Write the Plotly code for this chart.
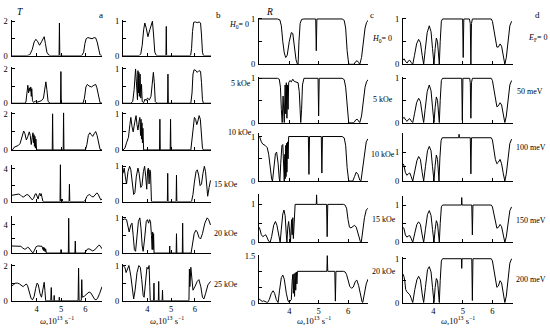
import plotly.graph_objects as go

W, H = 550, 333

# ---------------- data (omega in 1e13 s^-1, value) ----------------
omega_ticks = [4, 5, 6]
omega_ticktext = ["4", "5", "6"]

# column a : T
T_a_0 = [(2.97,0),(3.6,0),(3.72,0.05),(3.82,0.35),(3.9,0.8),(3.97,0.95),(4.05,0.8),(4.12,0.6),(4.2,0.8),(4.27,1.05),(4.31,1.1),(4.36,0.7),(4.42,0.2),(4.5,0.02),(4.6,0),(4.92,0),(4.935,1.9),(4.95,0),(5.85,0),(5.93,0.2),(5.98,0.7),(6.03,0.98),(6.1,1.05),(6.18,1.0),(6.27,0.98),(6.36,1.05),(6.42,1.03),(6.48,0.8),(6.54,0.3),(6.6,0.03),(6.68,0)]
T_a_5 = [(2.97,0),(3.5,0),(3.56,0.05),(3.6,0.5),(3.64,1.05),(3.67,0.6),(3.7,0.9),(3.73,0.7),(3.76,0.95),(3.78,0.4),(3.8,0.85),(3.83,0.15),(3.87,0.05),(3.95,0.12),(4.0,0.05),(4.1,0.1),(4.2,0.15),(4.28,0.3),(4.34,0.9),(4.38,1.25),(4.42,0.8),(4.47,0.1),(4.55,0),(4.98,0),(4.995,1.85),(5.01,0),(5.9,0),(5.96,0.3),(6.02,0.95),(6.08,1.1),(6.15,1.0),(6.25,0.95),(6.35,1.05),(6.42,1.1),(6.47,0.9),(6.54,0.3),(6.6,0.03),(6.68,0)]
T_a_10 = [(2.97,0),(3.02,0.02),(3.08,0.15),(3.15,0.2),(3.25,0.25),(3.32,0.35),(3.4,0.75),(3.47,1.05),(3.52,0.9),(3.58,0.55),(3.64,0.75),(3.7,1.0),(3.74,0.8),(3.78,0.3),(3.82,0.7),(3.85,0.95),(3.87,0.4),(3.89,0.85),(3.91,0.2),(3.93,0.75),(3.95,0.1),(3.97,0.6),(4.0,0),(4.1,0),(4.64,0),(4.655,2.0),(4.67,0),(5.09,0),(5.105,2.05),(5.12,0),(6.0,0),(6.06,0.3),(6.12,0.8),(6.18,0.95),(6.24,0.85),(6.3,0.75),(6.36,0.9),(6.42,1.02),(6.48,0.8),(6.54,0.3),(6.6,0.03),(6.68,0)]
T_a_15 = [(2.97,0.75),(3.05,0.8),(3.15,0.85),(3.25,0.9),(3.32,0.85),(3.4,0.6),(3.46,0.55),(3.52,0.7),(3.6,0.85),(3.66,0.8),(3.74,0.45),(3.82,0.2),(3.88,0.4),(3.94,0.9),(3.98,0.95),(4.03,0.4),(4.06,0.3),(4.1,0.8),(4.13,1.0),(4.16,0.7),(4.19,0.95),(4.22,0.5),(4.26,0),(4.35,0),(4.96,0),(4.975,4.5),(4.99,0),(5.04,0),(5.05,0.3),(5.06,0),(5.33,0),(5.345,2.1),(5.36,0),(5.95,0),(6.0,0.2),(6.06,0.6),(6.12,0.8),(6.18,0.85),(6.26,0.6),(6.32,0.55),(6.4,0.8),(6.47,1.05),(6.52,0.9),(6.58,0.4),(6.63,0.2),(6.68,0.3)]
T_a_20 = [(2.97,1.0),(3.1,1.0),(3.25,1.0),(3.35,0.95),(3.42,0.75),(3.5,0.55),(3.56,0.6),(3.62,0.8),(3.68,0.75),(3.75,0.4),(3.82,0.1),(3.86,0.05),(3.92,0.4),(3.98,0.9),(4.05,1.0),(4.15,1.0),(4.22,0.95),(4.26,0.5),(4.28,0.8),(4.3,0.3),(4.32,0.75),(4.35,0.2),(4.37,0.6),(4.4,0),(4.5,0),(4.99,0),(5.0,0.5),(5.01,0),(5.3,0),(5.315,4.9),(5.33,0),(5.57,0),(5.585,1.7),(5.6,0),(5.97,0),(6.02,0.3),(6.08,0.55),(6.15,0.6),(6.22,0.45),(6.3,0.3),(6.38,0.45),(6.46,0.8),(6.55,1.1),(6.6,1.05),(6.64,0.8),(6.68,0.6)]
T_a_25 = [(2.97,0.85),(3.05,0.9),(3.12,1.0),(3.22,1.0),(3.3,0.95),(3.38,0.85),(3.45,0.8),(3.52,0.9),(3.58,0.95),(3.63,0.85),(3.7,0.5),(3.77,0.15),(3.83,0.05),(3.9,0.25),(3.96,0.7),(4.02,1.0),(4.07,0.9),(4.14,0.4),(4.2,0.2),(4.26,0.6),(4.31,1.05),(4.34,0.6),(4.37,0),(4.58,0),(4.6,0.75),(4.62,0),(4.71,0),(4.72,0.3),(4.73,0),(4.92,0),(4.93,0.2),(4.94,0),(5.7,0),(5.72,1.85),(5.74,0),(5.83,0),(5.85,1.2),(5.87,0.2),(5.95,0.25),(6.05,0.4),(6.15,0.5),(6.22,0.45),(6.3,0.25),(6.38,0.08),(6.44,0.05),(6.5,0.15),(6.58,0.4),(6.64,0.65),(6.68,0.8)]

# column b : T
T_b_0 = [(2.97,0),(3.65,0),(3.72,0.05),(3.78,0.3),(3.84,0.75),(3.89,0.95),(3.95,0.8),(4.02,0.55),(4.1,0.75),(4.17,0.95),(4.21,1.0),(4.26,0.6),(4.31,0.1),(4.38,0),(4.78,0),(4.795,0.85),(4.81,0),(5.82,0),(5.86,0.2),(5.9,0.7),(5.95,0.97),(6.02,0.98),(6.1,0.96),(6.18,0.98),(6.24,0.95),(6.28,0.6),(6.32,0.1),(6.36,0),(6.68,0)]
T_b_5 = [(2.97,0),(3.3,0),(3.38,0.05),(3.44,0.4),(3.5,1.0),(3.54,0.5),(3.58,0.1),(3.6,0.95),(3.62,0.3),(3.64,0.9),(3.66,0.2),(3.69,0.85),(3.72,0.15),(3.75,0.55),(3.78,0.05),(3.84,0.02),(3.9,0.12),(3.95,0.08),(4.0,0.15),(4.08,0.1),(4.15,0.2),(4.2,0.55),(4.25,0.9),(4.29,0.6),(4.33,0.05),(4.4,0),(4.85,0),(4.865,0.85),(4.88,0),(5.83,0),(5.88,0.3),(5.92,0.85),(5.97,0.98),(6.05,0.95),(6.1,0.9),(6.17,0.95),(6.24,0.93),(6.28,0.6),(6.32,0.1),(6.36,0),(6.68,0)]
T_b_10 = [(2.97,0),(3.05,0.05),(3.12,0.2),(3.2,0.35),(3.26,0.7),(3.3,0.9),(3.35,0.65),(3.4,0.5),(3.46,0.75),(3.52,0.95),(3.56,0.7),(3.6,0.55),(3.65,0.8),(3.68,0.9),(3.71,0.4),(3.73,0.85),(3.75,0.3),(3.77,0.75),(3.79,0.2),(3.81,0.6),(3.84,0),(3.9,0),(4.51,0),(4.525,0.85),(4.54,0),(4.96,0),(4.975,0.85),(4.99,0),(5.83,0),(5.88,0.3),(5.93,0.75),(5.98,0.9),(6.03,0.85),(6.08,0.7),(6.13,0.8),(6.18,0.95),(6.23,0.85),(6.28,0.45),(6.32,0.05),(6.36,0),(6.68,0)]
T_b_15 = [(2.97,0.8),(3.02,0.95),(3.07,0.7),(3.12,0.5),(3.18,0.85),(3.25,1.0),(3.3,0.9),(3.36,0.5),(3.42,0.2),(3.47,0.25),(3.53,0.7),(3.6,0.95),(3.65,0.8),(3.72,0.4),(3.77,0.45),(3.83,0.85),(3.88,1.0),(3.93,0.7),(3.97,0.35),(4.01,0.9),(4.04,0.95),(4.07,0.5),(4.1,0.9),(4.13,0.85),(4.17,0),(4.25,0),(4.84,0),(4.855,0.8),(4.87,0),(5.21,0),(5.225,0.75),(5.24,0),(5.86,0),(5.92,0.2),(5.98,0.55),(6.05,0.85),(6.1,0.9),(6.16,0.75),(6.22,0.45),(6.28,0.5),(6.34,0.8),(6.4,1.0),(6.45,0.85),(6.5,0.35),(6.54,0.15),(6.6,0.4),(6.66,0.6)]
T_b_20 = [(2.97,0.95),(3.05,0.97),(3.12,0.95),(3.18,0.75),(3.23,0.6),(3.3,0.8),(3.35,0.85),(3.4,0.5),(3.45,0.1),(3.5,0.05),(3.56,0.4),(3.62,0.9),(3.68,1.0),(3.73,0.7),(3.78,0.2),(3.82,0.05),(3.88,0.4),(3.95,0.9),(4.0,0.95),(4.05,0.85),(4.09,0.95),(4.13,0.9),(4.17,0.5),(4.2,0.1),(4.22,0.6),(4.24,0.1),(4.26,0.55),(4.28,0),(4.35,0),(4.93,0),(4.94,0.2),(4.95,0),(5.21,0),(5.225,0.55),(5.24,0),(5.47,0),(5.485,0.85),(5.5,0),(5.84,0),(5.9,0.25),(5.97,0.55),(6.04,0.65),(6.1,0.6),(6.17,0.45),(6.24,0.4),(6.32,0.55),(6.42,0.85),(6.52,1.0),(6.58,0.95),(6.66,0.8)]
T_b_25 = [(2.97,1.0),(3.05,0.95),(3.1,0.8),(3.17,0.95),(3.22,1.0),(3.3,0.7),(3.37,0.2),(3.42,0.05),(3.48,0.3),(3.56,0.8),(3.64,1.0),(3.7,0.95),(3.76,0.6),(3.82,0.15),(3.86,0.1),(3.92,0.5),(3.98,0.95),(4.03,0.9),(4.07,1.0),(4.1,0.4),(4.12,0),(4.26,0),(4.275,0.5),(4.29,0),(4.46,0),(4.475,0.55),(4.49,0),(4.62,0),(4.635,0.3),(4.65,0),(5.75,0),(5.77,0.9),(5.79,0.4),(5.83,0.95),(5.87,0.6),(5.92,0.3),(6.0,0.4),(6.1,0.55),(6.17,0.6),(6.25,0.4),(6.32,0.1),(6.38,0.05),(6.45,0.2),(6.55,0.45),(6.66,0.55)]

# column c : R
R_c_0 = [(2.97,1.0),(3.6,1.0),(3.68,0.98),(3.73,0.85),(3.78,0.5),(3.83,0.25),(3.88,0.15),(3.93,0.2),(4.0,0.5),(4.07,0.7),(4.12,0.68),(4.18,0.4),(4.23,0.1),(4.28,0.0),(4.3,0.0),(4.33,0.5),(4.37,0.9),(4.42,0.99),(4.5,1.0),(4.9,1.0),(4.92,0.3),(4.94,1.0),(5.8,1.0),(5.87,0.97),(5.92,0.8),(5.97,0.3),(6.02,0.02),(6.06,0),(6.2,0),(6.26,0.06),(6.31,0.08),(6.36,0.04),(6.4,0),(6.46,0.15),(6.52,0.5),(6.58,0.8),(6.63,0.92),(6.68,0.97)]
R_c_5 = [(2.97,1.0),(3.6,1.0),(3.66,0.98),(3.7,0.8),(3.73,0.3),(3.76,0),(3.79,0.6),(3.81,0.1),(3.83,0),(3.86,0.85),(3.88,0.2),(3.9,0.9),(3.92,0.1),(3.94,0.85),(3.96,0.3),(3.98,0.9),(4.02,0.95),(4.07,0.92),(4.12,0.98),(4.17,0.93),(4.24,0.92),(4.3,0.9),(4.34,0.7),(4.37,0.2),(4.39,0),(4.42,0.3),(4.45,0.85),(4.5,1.0),(4.98,1.0),(5.0,0.15),(5.02,1.0),(5.8,1.0),(5.87,0.97),(5.92,0.8),(5.97,0.3),(6.02,0.02),(6.06,0),(6.2,0),(6.26,0.06),(6.31,0.08),(6.36,0.04),(6.4,0),(6.46,0.15),(6.52,0.5),(6.58,0.8),(6.63,0.92),(6.68,0.97)]
R_c_10 = [(2.97,1.0),(3.0,0.98),(3.05,0.88),(3.1,0.83),(3.18,0.8),(3.25,0.75),(3.3,0.6),(3.35,0.3),(3.4,0.05),(3.43,0),(3.47,0.3),(3.53,0.62),(3.57,0.65),(3.62,0.4),(3.66,0.05),(3.68,0),(3.71,0.4),(3.75,0.8),(3.78,0.82),(3.81,0.4),(3.83,0),(3.85,0.6),(3.86,0.05),(3.88,0.8),(3.89,0.1),(3.91,0.85),(3.92,0.2),(3.94,0.88),(3.96,0.5),(3.98,1.0),(4.65,1.0),(4.67,0.15),(4.69,1.0),(5.09,1.0),(5.11,0.18),(5.13,1.0),(5.8,1.0),(5.87,0.97),(5.92,0.8),(5.97,0.3),(6.02,0.02),(6.06,0),(6.16,0),(6.22,0.1),(6.28,0.2),(6.34,0.15),(6.4,0.02),(6.44,0),(6.5,0.3),(6.56,0.7),(6.62,0.88),(6.68,0.95)]
R_c_15 = [(2.97,0.4),(3.0,0.35),(3.05,0.2),(3.1,0.15),(3.15,0.18),(3.2,0.2),(3.25,0.12),(3.3,0.03),(3.35,0),(3.4,0.15),(3.47,0.45),(3.53,0.55),(3.58,0.45),(3.64,0.15),(3.69,0),(3.73,0.35),(3.78,0.75),(3.82,0.85),(3.86,0.7),(3.9,0.2),(3.92,0),(3.95,0.4),(3.98,0.55),(4.01,0.3),(4.04,0),(4.06,0.3),(4.08,0.6),(4.1,0.2),(4.12,0.65),(4.14,0.1),(4.17,0.7),(4.2,1.0),(4.92,1.0),(4.93,1.25),(4.94,1.0),(5.27,1.0),(5.29,0.15),(5.31,1.0),(5.85,1.0),(5.9,0.98),(5.95,0.9),(6.0,0.6),(6.05,0.4),(6.1,0.38),(6.15,0.4),(6.22,0.45),(6.28,0.4),(6.35,0.2),(6.42,0.02),(6.45,0),(6.5,0.3),(6.56,0.65),(6.62,0.85),(6.68,0.9)]
R_c_20 = [(2.97,0.12),(3.02,0.08),(3.08,0.04),(3.13,0.06),(3.2,0.02),(3.26,0),(3.32,0.1),(3.39,0.3),(3.45,0.38),(3.5,0.3),(3.56,0.1),(3.62,0),(3.67,0.4),(3.73,0.8),(3.78,0.88),(3.83,0.75),(3.9,0.3),(3.96,0.05),(4.0,0.02),(4.04,0.06),(4.07,0.1),(4.1,0.7),(4.12,0.9),(4.14,0.3),(4.16,0.92),(4.18,0.2),(4.2,0.95),(4.22,0.4),(4.24,0.98),(4.26,0.6),(4.28,1.0),(5.28,1.0),(5.295,1.5),(5.31,1.0),(5.55,1.0),(5.57,0.05),(5.59,1.0),(5.85,1.0),(5.9,0.98),(5.95,0.9),(6.0,0.7),(6.06,0.52),(6.12,0.46),(6.18,0.5),(6.25,0.68),(6.3,0.72),(6.36,0.55),(6.42,0.25),(6.48,0.02),(6.5,0),(6.55,0.3),(6.62,0.6),(6.68,0.75)]

# column d : R
R_d_0 = [(2.97,0.1),(3.01,0.12),(3.06,0.06),(3.11,0.03),(3.16,0.08),(3.2,0.09),(3.25,0.04),(3.3,0),(3.36,0.2),(3.43,0.45),(3.5,0.55),(3.56,0.48),(3.62,0.2),(3.67,0),(3.72,0.3),(3.79,0.7),(3.86,0.85),(3.92,0.72),(3.97,0.35),(4.02,0),(4.06,0.35),(4.1,0.58),(4.14,0.5),(4.18,0.05),(4.2,0),(4.23,0.5),(4.27,0.95),(4.31,1.0),(4.99,1.0),(5.01,0.15),(5.03,1.0),(5.22,1.0),(5.25,0.9),(5.27,0),(5.29,0.9),(5.32,1.0),(5.96,1.0),(6.0,0.95),(6.05,0.75),(6.1,0.5),(6.15,0.38),(6.2,0.38),(6.26,0.45),(6.31,0.4),(6.37,0.15),(6.42,0),(6.47,0.15),(6.53,0.55),(6.59,0.85),(6.65,0.95)]
R_d_50 = [(2.97,0.1),(3.01,0.12),(3.06,0.06),(3.11,0.03),(3.16,0.08),(3.2,0.09),(3.25,0.04),(3.3,0),(3.36,0.2),(3.43,0.45),(3.5,0.55),(3.56,0.48),(3.62,0.2),(3.67,0),(3.72,0.3),(3.79,0.7),(3.86,0.85),(3.92,0.72),(3.97,0.35),(4.02,0),(4.06,0.35),(4.1,0.58),(4.14,0.5),(4.18,0.05),(4.2,0),(4.23,0.5),(4.27,0.95),(4.31,1.0),(4.96,1.0),(4.98,0.05),(5.0,1.0),(5.23,1.0),(5.25,0.9),(5.27,0.1),(5.29,0.9),(5.32,1.0),(5.96,1.0),(6.0,0.95),(6.05,0.75),(6.1,0.5),(6.15,0.36),(6.2,0.38),(6.26,0.45),(6.31,0.4),(6.37,0.15),(6.42,0),(6.47,0.15),(6.53,0.55),(6.59,0.85),(6.65,0.95)]
R_d_100 = [(2.97,0.6),(3.0,0.55),(3.05,0.3),(3.1,0.2),(3.15,0.25),(3.2,0.28),(3.25,0.15),(3.3,0),(3.37,0.35),(3.44,0.7),(3.5,0.85),(3.56,0.75),(3.62,0.3),(3.67,0),(3.73,0.5),(3.8,1.05),(3.86,1.2),(3.92,1.05),(3.97,0.5),(4.02,0),(4.06,0.55),(4.1,0.9),(4.14,0.75),(4.17,0.1),(4.19,0),(4.22,0.8),(4.26,1.4),(4.3,1.5),(4.86,1.5),(4.87,1.62),(4.88,1.5),(5.25,1.5),(5.27,0.25),(5.29,1.5),(5.96,1.5),(6.0,1.42),(6.05,1.1),(6.1,0.75),(6.15,0.6),(6.2,0.65),(6.26,0.75),(6.31,0.6),(6.37,0.25),(6.42,0),(6.47,0.25),(6.53,0.8),(6.59,1.3),(6.65,1.45)]
R_d_150 = [(2.97,0.4),(3.0,0.38),(3.05,0.2),(3.1,0.14),(3.15,0.17),(3.2,0.18),(3.25,0.1),(3.3,0),(3.37,0.25),(3.44,0.48),(3.5,0.55),(3.56,0.48),(3.62,0.2),(3.67,0),(3.73,0.35),(3.8,0.75),(3.86,0.85),(3.92,0.72),(3.97,0.35),(4.02,0),(4.06,0.35),(4.1,0.58),(4.14,0.5),(4.18,0.05),(4.2,0),(4.23,0.5),(4.27,0.95),(4.31,1.0),(4.95,1.0),(4.96,1.2),(4.97,1.0),(5.3,1.0),(5.32,0.2),(5.34,1.0),(5.96,1.0),(6.0,0.95),(6.05,0.75),(6.1,0.5),(6.15,0.38),(6.2,0.4),(6.26,0.48),(6.31,0.42),(6.37,0.15),(6.42,0),(6.47,0.15),(6.53,0.55),(6.59,0.85),(6.65,0.95)]
R_d_200 = [(2.97,0.65),(3.0,0.6),(3.03,0.5),(3.06,0.3),(3.1,0.25),(3.15,0.22),(3.2,0.18),(3.25,0.1),(3.3,0),(3.37,0.3),(3.44,0.52),(3.5,0.6),(3.56,0.52),(3.62,0.2),(3.67,0),(3.73,0.35),(3.8,0.75),(3.86,0.82),(3.92,0.7),(3.97,0.35),(4.02,0),(4.06,0.35),(4.1,0.55),(4.14,0.5),(4.18,0.05),(4.2,0),(4.23,0.5),(4.27,0.95),(4.31,1.0),(4.95,1.0),(4.96,0.78),(4.97,1.0),(5.3,1.0),(5.32,0.05),(5.34,1.0),(5.96,1.0),(6.0,0.95),(6.05,0.75),(6.1,0.5),(6.15,0.35),(6.2,0.38),(6.26,0.5),(6.31,0.45),(6.37,0.15),(6.42,0),(6.47,0.15),(6.53,0.55),(6.59,0.9),(6.65,1.0)]

labels_b = ["<i>H</i><sub>0</sub>= 0", "5 kOe", "10 kOe", "15 kOe", "20 kOe", "25 kOe"]
labels_c = ["<i>H</i><sub>0</sub>= 0", "5 kOe", "10 kOe", "15 kOe", "20 kOe"]
labels_d = ["<i>E</i><sub>F</sub>= 0", "50 meV", "100 meV", "150 meV", "200 meV"]
x_title = "<i>ω</i>,10<sup>13</sup> s<sup>−1</sup>"

# ---------------- layout geometry (pixels) ----------------
FONT = "Liberation Serif"
TICK_SIZE = 8.5
LAB_SIZE = 8
XR = [2.97, 6.68]
col_x = {"a": (11.5, 102), "b": (123, 211), "c": (259, 368), "d": (403, 512.5)}
rows_ab = [(16, 53), (65, 102), (111, 150), (165, 203), (218, 256), (267, 305)]
rows_cd = [(14, 62), (75, 122), (133, 182), (195, 245), (258, 307)]

# (labelled ticks, labels, unlabelled minor ticks)
t2 = ([0, 2], ["0", "2"], [1])
t4 = ([0, 4], ["0", "4"], [2])
t1 = ([0, 1], ["0", "1"], [0.5])
t15 = ([0, 1.5], ["0", "1.5"], [0.5, 1.0])

panels = [
    ("a", rows_ab[0], T_a_0, [0, 2.1], t2),
    ("a", rows_ab[1], T_a_5, [0, 2.1], t2),
    ("a", rows_ab[2], T_a_10, [0, 2.1], t2),
    ("a", rows_ab[3], T_a_15, [0, 4.5], t4),
    ("a", rows_ab[4], T_a_20, [0, 5.2], t4),
    ("a", rows_ab[5], T_a_25, [0, 2.1], t2),
    ("b", rows_ab[0], T_b_0, [0, 1.05], t1),
    ("b", rows_ab[1], T_b_5, [0, 1.05], t1),
    ("b", rows_ab[2], T_b_10, [0, 1.05], t1),
    ("b", rows_ab[3], T_b_15, [0, 1.05], t1),
    ("b", rows_ab[4], T_b_20, [0, 1.05], t1),
    ("b", rows_ab[5], T_b_25, [0, 1.05], t1),
    ("c", rows_cd[0], R_c_0, [0, 1.03], t1),
    ("c", rows_cd[1], R_c_5, [0, 1.03], t1),
    ("c", rows_cd[2], R_c_10, [0, 1.07], t1),
    ("c", rows_cd[3], R_c_15, [0, 1.28], t1),
    ("c", rows_cd[4], R_c_20, [0, 1.52], t15),
    ("d", rows_cd[0], R_d_0, [0, 1.03], t1),
    ("d", rows_cd[1], R_d_50, [0, 1.03], t1),
    ("d", rows_cd[2], R_d_100, [0, 1.65], t1),
    ("d", (197, 245), R_d_150, [0, 1.25], t1),
    ("d", (260, 307), R_d_200, [0, 1.04], t1),
]
bottom_idx = {5, 11, 16, 21}

fig = go.Figure()
layout = dict(
    width=W, height=H, margin=dict(l=0, r=0, t=0, b=0),
    paper_bgcolor="white", plot_bgcolor="white", showlegend=False,
    font=dict(family=FONT, size=LAB_SIZE, color="black"),
)
for i, (col, (top, bot), pts, yr, (tv, tt, mv)) in enumerate(panels):
    n = i + 1
    xs = [p[0] for p in pts]
    ys = [p[1] for p in pts]
    fig.add_trace(go.Scatter(x=xs, y=ys, mode="lines",
                             line=dict(color="black", width=1),
                             xaxis=f"x{n}", yaxis=f"y{n}", hoverinfo="skip"))
    x0, x1 = col_x[col]
    layout[f"xaxis{n}"] = dict(
        domain=[x0 / W, x1 / W], anchor=f"y{n}", range=XR,
        showline=True, linecolor="black", linewidth=1, showgrid=False, zeroline=False,
        ticks="inside", ticklen=3, tickwidth=1, tickcolor="black",
        tickmode="array", tickvals=omega_ticks, ticktext=omega_ticktext,
        showticklabels=(i in bottom_idx),
        tickfont=dict(family=FONT, size=TICK_SIZE, color="black"),
    )
    layout[f"yaxis{n}"] = dict(
        domain=[1 - bot / H, 1 - top / H], anchor=f"x{n}", range=yr,
        showline=True, linecolor="black", linewidth=1, showgrid=False, zeroline=False,
        ticks="inside", ticklen=3, tickwidth=1, tickcolor="black",
        tickmode="array", tickvals=tv, ticktext=tt, ticklabelstandoff=1,
        minor=dict(tickmode="array", tickvals=mv, ticks="inside", ticklen=3,
                   tickwidth=1, tickcolor="black", showgrid=False),
        tickfont=dict(family=FONT, size=TICK_SIZE, color="black"),
    )

ann = []
def text(x, y, s, size=LAB_SIZE, anchor="left"):
    ann.append(dict(x=x / W, y=1 - y / H, xref="paper", yref="paper", text=s,
                    showarrow=False, xanchor=anchor, yanchor="middle",
                    font=dict(family=FONT, size=size, color="black")))

text(15, 8, "<i>T</i>", 9.5)
text(264, 8, "<i>R</i>", 9.5)
text(101, 11, "a", 9, "center")
text(218, 11, "b", 9, "center")
text(372, 11, "c", 9, "center")
text(537, 11, "d", 9, "center")

b_pos = [(227, 22), (229, 82), (226, 132), (212, 185), (212, 236), (212, 288)]
for (x, y), s in zip(b_pos, labels_b):
    text(x, y, s)
c_pos = [(370, 36), (371, 98), (369, 155), (370, 221), (370, 275)]
for (x, y), s in zip(c_pos, labels_c):
    text(x, y, s)
d_pos = [(526, 35), (515, 90), (514, 147), (514, 222), (514, 283)]
for (x, y), s in zip(d_pos, labels_d):
    text(x, y, s)

for col in "abcd":
    x0, x1 = col_x[col]
    text((x0 + x1) / 2, 325, x_title, 8.5, "center")

layout["annotations"] = ann
fig.update_layout(**layout)
fig.write_html("out.html",
               config={"displayModeBar": False, "staticPlot": True},
               post_script="document.body.style.margin='0';document.body.style.overflow='hidden';")
